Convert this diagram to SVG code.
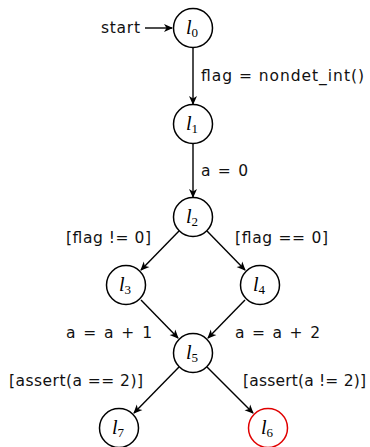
<svg xmlns="http://www.w3.org/2000/svg" width="370" height="447" viewBox="0 0 370 447">
<style>
.node circle{fill:#fff;stroke:#000;stroke-width:1.5}
.node.err circle{stroke:#e00000}
.lbl{font-family:"Liberation Serif",serif;font-style:italic;font-size:20px;text-anchor:middle}
.sub{font-style:normal;font-size:13px}
.t{font-family:"DejaVu Sans",sans-serif;font-size:15.5px;fill:#111}
.edge{stroke:#000;stroke-width:1.4;fill:none;marker-end:url(#ah)}
</style>
<defs>
<marker id="ah" markerWidth="10" markerHeight="10" refX="8" refY="5" orient="auto" markerUnits="userSpaceOnUse">
<path d="M0,1 L9,5 L0,9 L2.5,5 Z" fill="#000"/>
</marker>
</defs>
<g id="connectors">
<line class="edge" x1="145" y1="28" x2="172" y2="28"/>
<line class="edge" x1="193" y1="48" x2="193" y2="104"/>
<line class="edge" x1="193" y1="144" x2="193" y2="197"/>
<line class="edge" x1="179" y1="231" x2="141" y2="270"/>
<line class="edge" x1="207" y1="231" x2="245" y2="270"/>
<line class="edge" x1="141" y1="300" x2="178" y2="338"/>
<line class="edge" x1="245" y1="300" x2="208" y2="338"/>
<line class="edge" x1="179" y1="367" x2="134" y2="413"/>
<line class="edge" x1="207" y1="367" x2="253" y2="413"/>
</g>
<g id="edge-labels">
<text class="t" x="101" y="33" textLength="39" lengthAdjust="spacing">start</text>
<text class="t" x="201" y="81" textLength="163" lengthAdjust="spacing">flag = nondet_int()</text>
<text class="t" x="201" y="176" textLength="47" lengthAdjust="spacing">a = 0</text>
<text class="t" x="66" y="243" textLength="85" lengthAdjust="spacing">[flag != 0]</text>
<text class="t" x="235" y="243" textLength="93" lengthAdjust="spacing">[flag == 0]</text>
<text class="t" x="66" y="338" textLength="86" lengthAdjust="spacing">a = a + 1</text>
<text class="t" x="235" y="338" textLength="85" lengthAdjust="spacing">a = a + 2</text>
<text class="t" x="9" y="386" textLength="134" lengthAdjust="spacing">[assert(a == 2)]</text>
<text class="t" x="243" y="386" textLength="123" lengthAdjust="spacing">[assert(a != 2)]</text>
</g>
<g id="l0" class="node"><circle cx="193" cy="28" r="19.5"/><text class="lbl" x="192" y="34">l<tspan class="sub" dy="3">0</tspan></text></g>
<g id="l1" class="node"><circle cx="193" cy="124" r="19.5"/><text class="lbl" x="192" y="130">l<tspan class="sub" dy="3">1</tspan></text></g>
<g id="l2" class="node"><circle cx="193" cy="217" r="19.5"/><text class="lbl" x="192" y="223">l<tspan class="sub" dy="3">2</tspan></text></g>
<g id="l3" class="node"><circle cx="126" cy="285" r="19.5"/><text class="lbl" x="125" y="291">l<tspan class="sub" dy="3">3</tspan></text></g>
<g id="l4" class="node"><circle cx="260" cy="285" r="19.5"/><text class="lbl" x="259" y="291">l<tspan class="sub" dy="3">4</tspan></text></g>
<g id="l5" class="node"><circle cx="193" cy="353" r="19.5"/><text class="lbl" x="192" y="359">l<tspan class="sub" dy="3">5</tspan></text></g>
<g id="l7" class="node"><circle cx="119" cy="428" r="19.5"/><text class="lbl" x="118" y="434">l<tspan class="sub" dy="3">7</tspan></text></g>
<g id="l6" class="node err"><circle cx="268" cy="428" r="19.5"/><text class="lbl" x="267" y="434">l<tspan class="sub" dy="3">6</tspan></text></g>
</svg>
